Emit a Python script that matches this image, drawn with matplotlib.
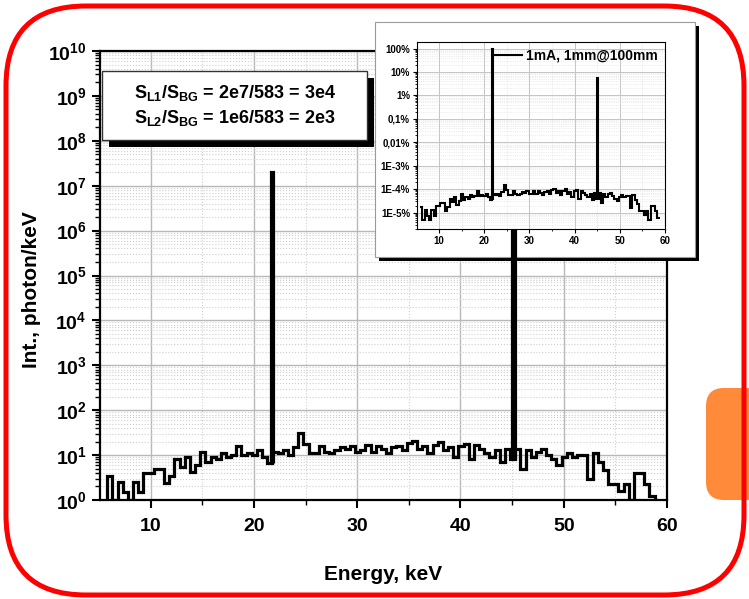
import numpy as np
import matplotlib
matplotlib.use("Agg")
import matplotlib.pyplot as plt
from matplotlib.patches import Rectangle, FancyBboxPatch
from matplotlib.lines import Line2D
from matplotlib.ticker import FixedLocator, FixedFormatter, MultipleLocator, LogLocator, NullFormatter

plt.rcParams['font.family'] = ['Liberation Sans', 'DejaVu Sans']
plt.rcParams['font.weight'] = 'bold'
plt.rcParams['mathtext.fontset'] = 'custom'
plt.rcParams['mathtext.rm'] = 'Liberation Sans:bold'
plt.rcParams['mathtext.bf'] = 'Liberation Sans:bold'
plt.rcParams['mathtext.default'] = 'bf'

# background spectrum, 0.5 keV bins starting at 5.8 keV (photon/keV)
bin_start = 5.8
bin_width = 0.5
background = [
    3.4, 1, 2.5, 1.5, 1, 2.5, 1.5, 4, 4, 5,
    5, 2.4, 3.5, 8, 5.5, 9, 4.3, 6, 12, 7,
    9, 8, 11, 9, 10, 16, 10, 11, 10, 13,
    9, 6.6, 12, 11, 13, 10, 15, 31, 18, 11,
    11, 16, 12, 11, 13, 15, 14, 16, 12, 13,
    17, 12, 16, 14, 11, 15, 16, 13, 19, 21,
    14, 16, 11, 17, 20, 13, 15, 9, 16, 18,
    8, 17, 14, 11, 9, 13, 7, 14, 8, 14,
    5, 13, 9, 12, 14, 10, 8, 6, 9, 11,
    9, 10, 10, 3, 11, 7, 4.6, 2.3, 2.3, 1.6,
    2.3, 1, 4, 4, 2.3, 1.2,
]

# characteristic lines
peak_energy = [21.75, 45.15]
peak_height = [2e7, 1.1e6]
peak_width = 0.24

main_yticks = [10.0 ** k for k in range(0, 11)]
main_ylabels = [r'$10^{%d}$' % k for k in range(0, 11)]
x_ticks = [10, 20, 30, 40, 50, 60]

inset_yticks = [1, 1e-1, 1e-2, 1e-3, 1e-4, 1e-5, 1e-6, 1e-7]
inset_ylabels = ['100%', '10%', '1%', '0,1%', '0,01%', '1E-3%', '1E-4%', '1E-5%']
inset_label = '1mA, 1mm@100mm'

ratio_text = ('$S_{L1}/S_{BG}$ = 2e7/583 = 3e4\n'
              '$S_{L2}/S_{BG}$ = 1e6/583 = 2e3')

W, H = 749, 599
fig = plt.figure(figsize=(W / 100, H / 100), dpi=100)


def fx(px):
    return px / W


def fy(py):
    return 1 - py / H


edges = bin_start + bin_width * np.arange(len(background) + 1)
bg = np.array(background, dtype=float)


def base_at(e):
    i = int((e - bin_start) // bin_width)
    return bg[i]


# ---------------- main axes ----------------
ax = fig.add_axes([fx(100), fy(500), fx(567), 449 / H])
ax.set_xlim(5.1, 60)
ax.set_yscale('log')
ax.set_ylim(1, 1e10)
ax.set_axisbelow(True)

ax.stairs(bg, edges, baseline=1, color='black', lw=2.3, zorder=3)
for e, h in zip(peak_energy, peak_height):
    ax.stairs([h], [e - peak_width / 2, e + peak_width / 2],
              baseline=base_at(e), color='black', lw=2.3, zorder=3)

ax.yaxis.set_major_locator(FixedLocator(main_yticks))
ax.yaxis.set_major_formatter(FixedFormatter(main_ylabels))
ax.yaxis.set_minor_locator(LogLocator(base=10, subs=np.arange(2, 10), numticks=20))
ax.yaxis.set_minor_formatter(NullFormatter())
ax.xaxis.set_major_locator(FixedLocator(x_ticks))
ax.xaxis.set_minor_locator(MultipleLocator(5))

ax.grid(which='major', color='#b8b8b8', lw=1.0)
ax.grid(which='minor', color='#cfcfcf', lw=0.8, ls=':')
ax.tick_params(which='major', direction='out', length=6, width=1.5, labelsize=14)
ax.tick_params(axis='x', which='major', pad=7)
ax.tick_params(which='minor', direction='out', length=3.5, width=1.0)
for s in ax.spines.values():
    s.set_linewidth(1.6)

ax.set_xlabel('Energy, keV', fontsize=15, fontweight='bold')
ax.set_ylabel('Int., photon/keV', fontsize=15, fontweight='bold')
ax.xaxis.set_label_coords(0.5, -0.145)
ax.yaxis.set_label_coords(-0.104, 0.468)

# text box with shadow
tb = (fx(102), fy(140), fx(265), 69 / H)
ax.add_patch(Rectangle((tb[0] + fx(7), tb[1] - 7 / H), tb[2], tb[3],
                       transform=fig.transFigure, facecolor='black',
                       edgecolor='none', clip_on=False, zorder=4))
ax.add_patch(Rectangle((tb[0], tb[1]), tb[2], tb[3],
                       transform=fig.transFigure, facecolor='white',
                       edgecolor='#333333', lw=1.0, clip_on=False, zorder=4.1))
ax.text(tb[0] + tb[2] / 2, tb[1] + tb[3] / 2, ratio_text, transform=fig.transFigure,
        ha='center', va='center', fontsize=13, fontweight='bold',
        linespacing=1.35, zorder=4.2)

# inset frame with shadow (under the main spectrum line)
ib = (fx(375), fy(257), fx(320), 235 / H)
ax.add_patch(Rectangle((ib[0] + fx(4), ib[1] - 4 / H), ib[2], ib[3],
                       transform=fig.transFigure, facecolor='black',
                       edgecolor='none', clip_on=False, zorder=2.6))
ax.add_patch(Rectangle((ib[0], ib[1]), ib[2], ib[3],
                       transform=fig.transFigure, facecolor='white',
                       edgecolor='#9a9a9a', lw=0.8, clip_on=False, zorder=2.7))

# ---------------- inset ----------------
ins = fig.add_axes([fx(417), fy(229), fx(248), 187 / H], zorder=5)
norm = peak_height[0]
ins.set_xlim(5.1, 60)
ins.set_yscale('log')
ins.set_ylim(2e-8, 1.9)
ins.set_axisbelow(True)
ins.stairs(bg / norm, edges, baseline=None, color='black', lw=1.5, zorder=3)
for e, h in zip(peak_energy, peak_height):
    ins.stairs([h / norm], [e - peak_width / 2, e + peak_width / 2],
               baseline=base_at(e) / norm, color='black', lw=1.5, zorder=3)

ins.yaxis.set_major_locator(FixedLocator(inset_yticks))
ins.yaxis.set_major_formatter(FixedFormatter(inset_ylabels))
ins.yaxis.set_minor_locator(LogLocator(base=10, subs=np.arange(2, 10), numticks=20))
ins.yaxis.set_minor_formatter(NullFormatter())
ins.xaxis.set_major_locator(FixedLocator(x_ticks))
ins.xaxis.set_minor_locator(MultipleLocator(5))
ins.grid(which='major', color='#c4c4c4', lw=0.7)
ins.grid(which='minor', color='#dcdcdc', lw=0.5, ls=':')
ins.tick_params(which='major', direction='out', length=3, width=0.8, labelsize=7, pad=2)
ins.tick_params(which='minor', direction='out', length=1.5, width=0.6)
for s in ins.spines.values():
    s.set_linewidth(0.8)
ins.legend([Line2D([], [], color='black', lw=1.5)], [inset_label], loc='upper right',
           frameon=False, prop={'size': 10, 'weight': 'bold'},
           handlelength=2.2, handletextpad=0.3, borderaxespad=0.1)

# ---------------- slide decorations ----------------
fig.patches.append(FancyBboxPatch((7.06, 0.99), 1.0, 1.12,
                                  boxstyle='round,pad=0,rounding_size=0.18',
                                  transform=fig.dpi_scale_trans,
                                  facecolor='#ff8a3a', edgecolor='none', zorder=20))
fig.patches.append(FancyBboxPatch((0.06, 0.04), 7.38, 5.89,
                                  boxstyle='round,pad=0,rounding_size=0.8',
                                  transform=fig.dpi_scale_trans,
                                  facecolor='none', edgecolor='#ff0000', lw=3.6, zorder=21))

fig.savefig('out.png', dpi=100)
